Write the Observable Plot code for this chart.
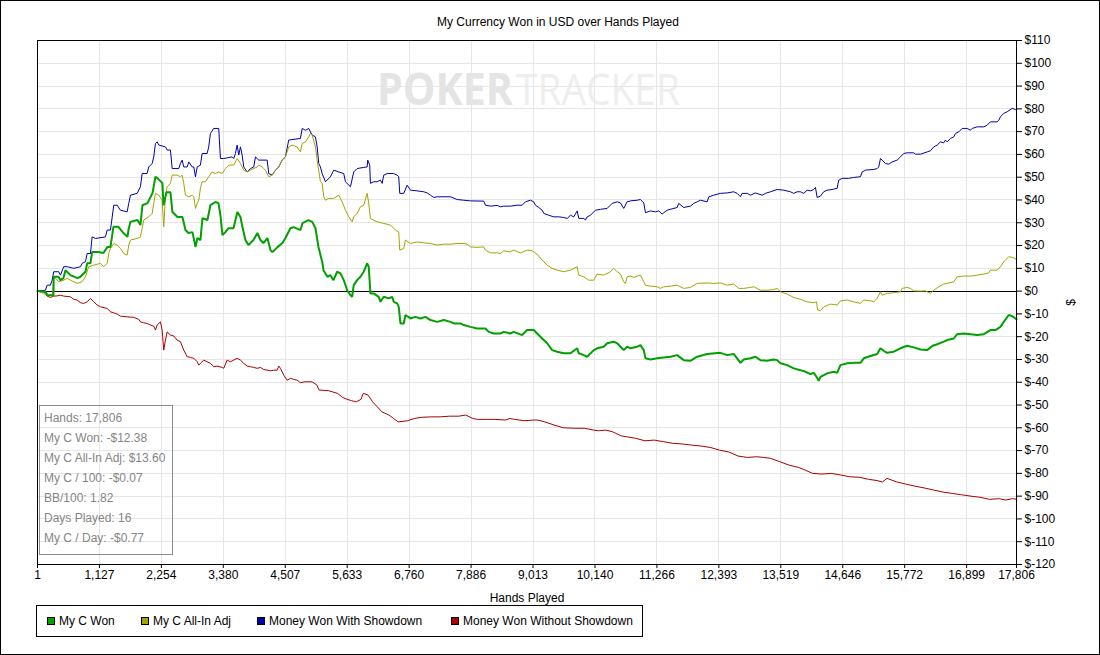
<!DOCTYPE html>
<html>
<head>
<meta charset="utf-8">
<script src="https://cdn.jsdelivr.net/npm/d3@7"></script>
<script src="https://cdn.jsdelivr.net/npm/@observablehq/plot@0.6"></script>
<style>
  html, body { margin: 0; padding: 0; background: #fff; }
  #wrap { position: relative; width: 1100px; height: 655px; overflow: hidden; background: #fff;
          font-family: "Liberation Sans", Arial, sans-serif; font-size: 12px; color: #000; }
  #border { position: absolute; left: 0; top: 0; width: 1100px; height: 655px; box-sizing: border-box;
            border: 1px solid #000; pointer-events: none; }
  #title { position: absolute; left: 437px; top: 15px; line-height: 14px; white-space: nowrap; }
  #watermark { position: absolute; left: 0; top: 0; }
  #chart { position: absolute; left: 0; top: 0; }
  #stats { position: absolute; left: 39px; top: 405px; width: 134px; height: 150px; box-sizing: border-box;
           border: 1px solid #8c8c8c; color: #858585; padding: 2px 0 0 4px; line-height: 20px; white-space: nowrap; }
  #legend { position: absolute; left: 36px; top: 605px; width: 607px; height: 32px; box-sizing: border-box;
            border: 1px solid #000; }
  .sw { position: absolute; top: 11px; width: 8px; height: 8px; box-sizing: border-box; border: 1px solid #000; }
  .lt { position: absolute; top: 8px; line-height: 14px; white-space: nowrap; }
</style>
</head>
<body>
<div id="wrap">
  <svg id="watermark" width="1100" height="130">
    <text x="377" y="105" font-family="Open Sans, Liberation Sans, sans-serif" font-weight="bold" font-size="44"
          fill="#e4e4e4" textLength="136" lengthAdjust="spacingAndGlyphs">POKER</text>
    <text x="516" y="105" font-family="Open Sans, Liberation Sans, sans-serif" font-size="44"
          fill="#eeeeee" textLength="164" lengthAdjust="spacingAndGlyphs">TRACKER</text>
  </svg>
  <div id="chart"></div>
  <div id="title">My Currency Won in USD over Hands Played</div>
  <div id="stats"></div>
  <div id="legend"></div>
  <div id="border"></div>
</div>
<script>
// ---- data: [hands played, USD] ----
const myCWon = [[1,0],[145,-0.3],[182,-1.8],[291,-1.8],[296,6.3],[382,6.3],[418,4.8],[473,5.7],[509,9.2],[600,7.0],[727,5.7],[782,6.3],[873,8.5],[904,12.2],[964,12.2],[995,17.2],[1109,17.2],[1200,16.7],[1273,19.4],[1328,19.4],[1382,28.2],[1473,28.2],[1564,25.5],[1637,23.8],[1655,26.8],[1691,30.4],[1819,31.2],[1873,29.0],[1910,37.7],[2001,38.6],[2092,43.0],[2146,50.2],[2182,49.6],[2273,47.4],[2292,37.7],[2346,43.4],[2419,43.4],[2455,34.7],[2546,32.5],[2637,32.5],[2692,26.8],[2746,25.5],[2819,25.9],[2874,19.4],[2910,23.3],[2964,22.4],[3001,32.0],[3092,31.2],[3146,37.7],[3237,39.1],[3292,38.6],[3328,33.3],[3365,24.6],[3419,25.9],[3474,27.6],[3565,27.6],[3637,34.7],[3692,32.5],[3728,28.1],[3783,22.4],[3837,20.2],[3928,22.4],[4001,25.5],[4056,22.4],[4110,21.1],[4183,23.3],[4238,18.0],[4274,17.1],[4365,19.3],[4456,21.1],[4510,23.3],[4601,27.6],[4656,28.1],[4783,26.8],[4820,29.8],[4929,31.2],[5001,30.3],[5056,27.6],[5111,19.4],[5183,12.3],[5202,9.2],[5274,6.3],[5329,7.0],[5383,4.8],[5451,8.5],[5511,7.8],[5571,4.8],[5633,0.4],[5693,-1.8],[5723,-2.5],[5752,2.6],[5814,4.8],[5874,6.3],[5934,8.5],[5996,12.2],[6025,10.7],[6056,-1.0],[6116,-1.0],[6207,-2.5],[6238,-4.7],[6298,-2.5],[6389,-3.2],[6451,-2.5],[6480,-4.7],[6542,-5.4],[6571,-6.9],[6602,-14.2],[6662,-14.2],[6693,-10.5],[6784,-12.0],[6875,-11.3],[6966,-12.0],[7057,-11.3],[7148,-12.7],[7270,-13.5],[7390,-12.7],[7511,-13.5],[7571,-14.2],[7693,-14.2],[7753,-14.9],[7875,-15.7],[7997,-16.4],[8148,-16.4],[8208,-17.9],[8299,-18.6],[8421,-18.6],[8481,-17.9],[8602,-18.6],[8662,-17.9],[8815,-19.3],[8906,-17.1],[9026,-17.1],[9088,-18.6],[9179,-20.8],[9270,-22.9],[9361,-25.9],[9452,-26.6],[9572,-27.3],[9694,-27.3],[9816,-25.1],[9845,-27.3],[9936,-28.1],[9998,-28.8],[10118,-25.9],[10179,-25.1],[10299,-24.4],[10361,-22.9],[10481,-22.2],[10543,-22.9],[10603,-24.4],[10663,-25.9],[10725,-24.4],[10785,-25.1],[10907,-24.4],[10967,-23.7],[11027,-25.9],[11058,-29.5],[11149,-30.0],[11271,-29.5],[11391,-29.1],[11513,-28.8],[11634,-28.1],[11754,-30.3],[11876,-30.6],[11998,-28.8],[12180,-27.6],[12421,-27.1],[12543,-28.1],[12663,-27.6],[12725,-29.5],[12785,-31.5],[12845,-30.0],[12967,-29.5],[13058,-28.8],[13149,-30.3],[13271,-30.6],[13391,-30.0],[13453,-30.3],[13513,-31.7],[13635,-32.5],[13755,-33.9],[13877,-34.7],[13968,-35.4],[14059,-36.4],[14119,-35.9],[14168,-37.6],[14209,-39.4],[14240,-37.6],[14362,-36.1],[14482,-35.4],[14544,-35.9],[14604,-32.5],[14726,-31.7],[14846,-31.5],[14968,-31.5],[15028,-29.5],[15150,-28.5],[15272,-27.6],[15332,-25.1],[15392,-26.2],[15453,-27.1],[15573,-26.6],[15695,-25.1],[15817,-24.0],[15937,-24.7],[16059,-25.6],[16181,-25.9],[16272,-24.1],[16363,-23.3],[16483,-22.2],[16545,-21.5],[16665,-20.8],[16727,-18.9],[16847,-18.6],[16969,-18.9],[17091,-19.3],[17211,-18.9],[17332,-17.1],[17423,-17.1],[17514,-15.7],[17574,-13.5],[17665,-10.5],[17727,-11.0],[17806,-12.38]];

const myCAllInAdj = [[1,0],[115,-1.0],[176,-1.8],[273,-1.8],[296,6.3],[387,4.1],[478,4.8],[540,5.6],[600,4.8],[722,3.4],[813,4.1],[873,6.3],[933,10.7],[1024,11.4],[1146,12.2],[1206,10.7],[1268,12.2],[1297,16.5],[1328,18.7],[1388,20.9],[1450,20.2],[1510,18.7],[1570,16.5],[1631,15.8],[1661,20.2],[1691,22.4],[1813,23.1],[1873,23.8],[1904,27.5],[1933,31.2],[2024,32.6],[2086,34.1],[2115,38.5],[2146,42.9],[2206,42.1],[2268,39.9],[2297,28.2],[2328,41.4],[2359,45.8],[2419,47.3],[2450,50.9],[2541,50.9],[2601,50.2],[2632,50.9],[2661,47.3],[2692,42.1],[2752,41.4],[2814,42.1],[2843,41.4],[2874,36.3],[2905,38.5],[2934,39.9],[2964,45.1],[2995,48.0],[3055,48.0],[3115,50.2],[3177,52.3],[3237,51.6],[3297,52.3],[3359,51.6],[3419,53.8],[3479,55.3],[3570,55.3],[3632,58.2],[3692,56.0],[3752,53.1],[3814,52.3],[3874,53.1],[3934,53.8],[3996,54.5],[4025,55.3],[4087,54.5],[4147,53.1],[4207,50.2],[4269,50.9],[4329,53.1],[4389,54.5],[4450,57.5],[4510,58.9],[4570,63.3],[4632,64.1],[4723,63.3],[4783,61.1],[4814,64.8],[4874,65.5],[4934,67.7],[4965,69.2],[4996,68.5],[5056,63.3],[5087,57.5],[5147,48.0],[5178,47.3],[5207,41.4],[5238,39.9],[5298,40.7],[5389,40.7],[5480,42.1],[5542,39.2],[5602,35.5],[5662,32.6],[5723,30.4],[5752,32.6],[5814,34.1],[5874,37.0],[5934,37.7],[5996,42.9],[6025,38.5],[6056,31.9],[6178,30.4],[6298,29.7],[6420,29.0],[6511,26.8],[6571,26.0],[6589,18.0],[6662,18.7],[6693,22.4],[6784,20.9],[6906,21.6],[7026,21.2],[7148,20.9],[7270,20.2],[7390,20.6],[7511,20.6],[7633,20.9],[7753,20.9],[7815,20.6],[7875,19.4],[7997,19.2],[8117,19.4],[8148,18.0],[8239,16.8],[8361,16.8],[8421,16.5],[8481,17.7],[8602,17.2],[8662,18.0],[8784,16.8],[8906,18.0],[8997,17.7],[9088,16.2],[9179,13.6],[9270,11.4],[9361,10.0],[9452,9.2],[9572,8.5],[9694,9.2],[9816,10.7],[9845,7.0],[9936,6.3],[10027,4.8],[10118,4.8],[10179,7.5],[10299,7.0],[10421,8.5],[10481,10.0],[10543,8.5],[10603,7.5],[10663,4.1],[10694,3.4],[10725,6.3],[10785,6.6],[10845,6.0],[10907,6.6],[10967,7.0],[11027,4.1],[11058,2.6],[11149,2.2],[11271,1.9],[11331,1.2],[11391,1.9],[11513,2.2],[11634,2.6],[11754,1.2],[11876,1.6],[11998,3.4],[12180,3.6],[12300,3.4],[12421,3.6],[12543,2.6],[12663,3.1],[12754,1.2],[12845,1.2],[12967,1.6],[13027,1.9],[13149,0.4],[13271,0.4],[13391,0.7],[13453,1.2],[13513,-0.3],[13635,-1.3],[13755,-2.8],[13877,-3.6],[13998,-4.7],[14119,-5.1],[14168,-4.7],[14191,-8.3],[14240,-8.6],[14300,-6.9],[14422,-5.7],[14544,-6.1],[14604,-4.3],[14726,-3.9],[14846,-4.7],[14908,-5.1],[14968,-5.4],[15028,-3.9],[15150,-4.3],[15210,-4.7],[15272,-3.2],[15332,-0.3],[15362,-1.8],[15453,-1.0],[15573,-0.7],[15695,-0.3],[15726,1.2],[15817,1.6],[15877,1.2],[15937,0.1],[16059,0],[16150,0.1],[16241,-1.0],[16301,0.4],[16392,1.9],[16483,3.1],[16545,3.4],[16665,4.1],[16727,6.3],[16847,6.6],[16969,6.6],[17091,7.0],[17211,7.5],[17302,8.0],[17332,9.2],[17454,9.2],[17514,10.7],[17574,12.9],[17665,15.1],[17727,14.8],[17787,14.3],[17806,13.6]];

const wonWithShowdown = [[1,0],[145,0.4],[176,2.6],[236,2.6],[267,4.8],[296,8.5],[387,8.5],[418,7.0],[478,10.7],[540,10.7],[660,10.0],[782,10.7],[813,12.2],[873,12.9],[904,16.5],[964,16.5],[995,23.8],[1055,23.1],[1237,23.8],[1268,26.8],[1328,26.8],[1388,37.7],[1450,37.7],[1510,35.5],[1631,34.8],[1661,38.5],[1691,42.1],[1813,42.9],[1873,45.8],[1904,51.6],[1995,51.6],[2024,54.5],[2086,56.0],[2115,58.9],[2146,64.8],[2177,65.5],[2206,64.1],[2328,63.3],[2359,61.9],[2419,61.9],[2450,53.8],[2570,53.8],[2601,56.0],[2632,57.5],[2661,54.5],[2723,54.5],[2752,56.7],[2814,54.5],[2843,54.5],[2874,50.2],[2905,54.5],[2964,55.3],[2995,60.4],[3086,60.4],[3115,63.3],[3146,69.2],[3206,71.4],[3297,71.4],[3328,58.2],[3388,58.2],[3541,58.9],[3570,58.2],[3601,60.4],[3632,64.1],[3661,59.7],[3692,63.3],[3723,59.7],[3752,54.5],[3814,52.3],[3874,53.8],[3934,54.5],[3965,58.9],[4025,57.5],[4178,57.5],[4207,51.6],[4269,50.9],[4329,53.1],[4389,54.5],[4450,57.5],[4510,58.9],[4570,66.3],[4783,67.0],[4814,71.4],[4874,70.6],[4934,71.4],[4965,69.9],[4996,68.5],[5056,67.7],[5087,63.3],[5116,56.0],[5147,54.5],[5178,51.6],[5238,48.0],[5329,50.2],[5389,53.1],[5480,52.3],[5571,51.6],[5602,48.0],[5693,45.8],[5752,52.3],[5814,53.8],[5934,54.3],[5996,54.5],[6007,57.5],[6043,55.3],[6056,47.3],[6116,48.0],[6178,48.0],[6238,48.7],[6269,47.3],[6298,50.9],[6360,51.6],[6480,51.6],[6542,50.9],[6571,50.2],[6589,42.9],[6662,42.9],[6724,46.5],[6784,44.3],[6906,44.0],[7026,43.6],[7087,43.1],[7148,42.1],[7208,41.1],[7270,41.4],[7511,41.4],[7633,40.2],[7753,39.9],[7875,39.6],[8117,39.5],[8148,37.7],[8239,37.3],[8361,37.6],[8421,37.0],[8481,37.3],[8602,37.3],[8724,37.7],[8815,37.7],[8875,39.2],[8966,39.9],[9026,39.2],[9057,37.7],[9117,36.7],[9179,35.5],[9208,34.1],[9299,33.3],[9390,32.6],[9481,32.6],[9572,32.3],[9634,31.9],[9694,33.3],[9754,32.6],[9816,35.2],[9845,31.9],[9936,31.9],[9966,31.2],[9998,32.6],[10057,33.3],[10148,35.5],[10239,35.9],[10361,36.3],[10452,38.5],[10543,39.2],[10603,38.7],[10663,36.3],[10725,39.2],[10785,39.6],[10907,39.9],[10967,40.2],[11027,38.7],[11058,34.4],[11149,35.2],[11240,34.8],[11300,35.2],[11361,33.8],[11391,34.4],[11452,35.5],[11513,35.9],[11634,36.7],[11663,38.5],[11754,36.7],[11876,37.3],[11936,38.5],[11998,39.2],[12058,39.9],[12180,39.2],[12210,41.4],[12300,42.1],[12421,42.9],[12543,43.1],[12663,43.6],[12725,42.9],[12785,41.4],[12816,42.9],[12907,42.9],[12967,42.1],[13058,43.1],[13118,42.6],[13180,42.1],[13240,42.9],[13331,43.6],[13453,44.6],[13573,44.3],[13694,43.6],[13755,42.9],[13816,43.6],[13877,43.6],[13937,42.9],[13998,44.3],[14059,44.0],[14119,44.6],[14150,45.5],[14180,41.1],[14240,41.7],[14300,43.6],[14362,44.3],[14453,44.6],[14544,45.1],[14573,48.7],[14635,49.5],[14755,49.5],[14846,49.9],[14968,50.2],[14999,52.3],[15059,53.1],[15210,53.4],[15272,53.8],[15301,54.5],[15332,58.2],[15362,57.5],[15423,56.0],[15483,55.7],[15544,56.7],[15635,57.5],[15695,58.9],[15755,60.4],[15817,60.7],[15937,60.7],[15968,60.1],[16059,60.1],[16181,61.1],[16241,61.6],[16301,63.3],[16363,64.1],[16423,65.5],[16483,65.1],[16514,66.3],[16545,65.5],[16605,67.0],[16665,67.7],[16696,69.2],[16756,69.9],[16818,71.4],[16909,71.4],[16969,70.6],[16999,71.4],[17091,72.1],[17211,72.1],[17272,72.8],[17332,74.3],[17454,74.3],[17484,75.0],[17514,76.5],[17574,78.0],[17636,78.7],[17727,80.2],[17787,79.7],[17806,79.4]];

const wonWithoutShowdown = [[1,0],[115,-0.3],[176,-2.2],[236,-2.8],[296,-2.2],[358,-2.1],[418,-1.8],[478,-2.2],[600,-2.5],[660,-3.6],[722,-3.9],[782,-5.1],[842,-5.4],[904,-4.7],[964,-3.2],[1024,-4.7],[1086,-6.1],[1146,-6.9],[1268,-7.6],[1328,-9.1],[1388,-9.5],[1450,-10.1],[1510,-11.0],[1631,-11.3],[1751,-11.5],[1842,-12.4],[1873,-13.5],[1933,-13.9],[1995,-14.2],[2056,-14.9],[2115,-15.4],[2146,-17.1],[2177,-14.9],[2237,-13.5],[2268,-17.1],[2297,-25.9],[2328,-21.5],[2359,-17.9],[2419,-19.3],[2479,-19.7],[2541,-21.5],[2601,-22.2],[2661,-25.9],[2723,-28.8],[2783,-29.1],[2843,-29.5],[2905,-31.0],[2934,-32.5],[2964,-31.7],[3024,-30.3],[3086,-31.0],[3146,-31.7],[3206,-33.2],[3268,-32.9],[3359,-33.5],[3388,-33.9],[3450,-30.3],[3510,-31.0],[3570,-30.3],[3632,-29.5],[3692,-30.3],[3752,-31.7],[3814,-32.9],[3874,-33.2],[3934,-33.5],[3996,-33.9],[4056,-33.5],[4116,-34.4],[4178,-34.7],[4238,-35.0],[4298,-34.7],[4360,-34.7],[4389,-32.9],[4420,-33.9],[4480,-36.9],[4541,-39.1],[4601,-38.3],[4661,-38.7],[4723,-39.1],[4783,-40.2],[4869,-39.8],[4994,-39.8],[5080,-41.2],[5122,-43.4],[5291,-43.7],[5460,-44.9],[5545,-46.6],[5631,-47.5],[5714,-48.1],[5800,-48.6],[5884,-47.5],[5925,-44.9],[6011,-45.6],[6096,-48.6],[6180,-50.8],[6265,-53.0],[6393,-54.4],[6476,-55.9],[6562,-57.4],[6731,-56.9],[6858,-55.9],[6984,-55.4],[7155,-55.2],[7324,-55.2],[7493,-54.9],[7662,-54.9],[7790,-54.4],[7917,-55.9],[8000,-56.3],[8169,-56.3],[8339,-56.3],[8508,-56.6],[8593,-55.9],[8679,-56.3],[8848,-56.9],[9017,-56.6],[9101,-56.6],[9228,-57.4],[9397,-58.8],[9566,-60.0],[9779,-60.2],[9948,-60.2],[10118,-61.0],[10203,-61.3],[10329,-61.0],[10456,-61.7],[10541,-62.7],[10625,-63.6],[10711,-63.9],[10880,-64.6],[11049,-65.7],[11218,-65.4],[11387,-66.1],[11556,-66.8],[11727,-67.1],[11896,-67.6],[12065,-68.0],[12234,-68.6],[12404,-69.8],[12573,-70.6],[12742,-72.4],[12911,-73.0],[13080,-72.7],[13207,-73.0],[13335,-73.4],[13504,-74.9],[13673,-76.4],[13842,-77.4],[13928,-78.2],[14097,-80.0],[14266,-80.3],[14435,-80.0],[14604,-80.7],[14773,-81.5],[14944,-81.7],[15113,-82.6],[15282,-83.2],[15366,-83.8],[15452,-82.2],[15621,-83.7],[15790,-84.7],[15959,-85.6],[16128,-86.4],[16297,-87.3],[16468,-88.2],[16637,-88.8],[16806,-89.4],[16976,-90.0],[17145,-90.5],[17314,-91.4],[17483,-91.1],[17610,-91.7],[17737,-91.1],[17806,-91.4]];

const seriesNames = ["My C Won", "My C All-In Adj", "Money Won With Showdown", "Money Won Without Showdown"];
const xTicks = [1, 1127, 2254, 3380, 4507, 5633, 6760, 7886, 9013, 10140, 11266, 12393, 13519, 14646, 15772, 16899, 17806];
const yTicks = [-120, -110, -100, -90, -80, -70, -60, -50, -40, -30, -20, -10, 0, 10, 20, 30, 40, 50, 60, 70, 80, 90, 100, 110];
const statLines = ["Hands: 17,806", "My C Won: -$12.38", "My C All-In Adj: $13.60", "My C / 100: -$0.07", "BB/100: 1.82", "Days Played: 16", "My C / Day: -$0.77"];

// ---- styles ----
const colors = ["#00a000", "#a4a400", "#0000a8", "#a80000"];
const widths = [2, 1, 1, 1];
const legendTextX = [22, 116, 232, 426];

const seriesData = [myCWon, myCAllInAdj, wonWithShowdown, wonWithoutShowdown];
const rows = seriesData.map((arr, i) => arr.map(([hand, usd]) => ({series: seriesNames[i], hand, usd})));

const drawOrder = [3, 2, 1, 0];
const chart = Plot.plot({
  width: 1100,
  height: 610,
  marginLeft: 37,
  marginRight: 84,
  marginTop: 40,
  marginBottom: 46,
  style: {background: "transparent", fontFamily: "'Liberation Sans', Arial, sans-serif", fontSize: "12px", color: "#000", overflow: "visible"},
  x: {domain: [1, 17806]},
  y: {domain: [-120, 110]},
  marks: [
    Plot.gridX(xTicks, {stroke: "#e6e6e6", strokeOpacity: 1, shapeRendering: "crispEdges"}),
    Plot.gridY(yTicks, {stroke: "#e6e6e6", strokeOpacity: 1, shapeRendering: "crispEdges"}),
    Plot.ruleY([0], {stroke: "#000", strokeWidth: 1, shapeRendering: "crispEdges"}),
    ...drawOrder.map(i => Plot.line(rows[i], {x: "hand", y: "usd", stroke: colors[i], strokeWidth: widths[i], strokeLinejoin: "miter"})),
    Plot.frame({stroke: "#000", shapeRendering: "crispEdges"}),
    Plot.axisX(xTicks, {tickFormat: d3.format(","), tickSize: 4, tickPadding: 2, label: "Hands Played", labelAnchor: "center", labelArrow: "none", labelOffset: 37}),
    Plot.axisY(yTicks, {anchor: "right", tickFormat: d => "$" + d, tickSize: 5, tickPadding: 3, label: "$", labelAnchor: "center", labelArrow: "none", labelOffset: 58})
  ]
});
document.getElementById("chart").appendChild(chart);

// stats box
const stats = document.getElementById("stats");
statLines.forEach(t => { const d = document.createElement("div"); d.textContent = t; stats.appendChild(d); });

// legend
const legend = document.getElementById("legend");
seriesNames.forEach((name, i) => {
  const sw = document.createElement("div");
  sw.className = "sw";
  sw.style.left = (legendTextX[i] - 12) + "px";
  sw.style.background = colors[i];
  legend.appendChild(sw);
  const lt = document.createElement("div");
  lt.className = "lt";
  lt.style.left = legendTextX[i] + "px";
  lt.textContent = name;
  legend.appendChild(lt);
});
</script>
</body>
</html>
